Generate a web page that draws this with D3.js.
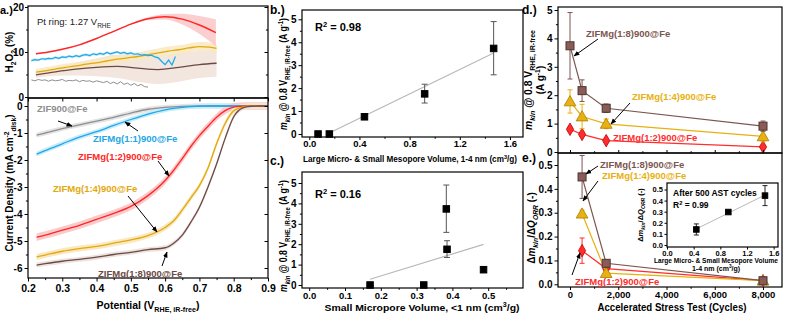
<!DOCTYPE html>
<html><head><meta charset="utf-8">
<script src="https://cdn.jsdelivr.net/npm/d3@7"></script>
<style>html,body{margin:0;padding:0;background:#fff}svg{display:block}</style>
</head><body>
<script>
// ---------------- DATA ----------------
// Panel a (top): H2O2 yield (%) vs potential
const h2RedV = [0.223,0.26,0.30,0.35,0.40,0.45,0.50,0.55,0.60,0.65,0.70,0.748];
const h2Red  = [9.6,10.0,10.6,11.6,13.0,14.6,16.2,17.4,17.85,17.3,16.0,14.3];
const h2RedE = [0.1,0.1,0.1,0.1,0.1,0.1,0.15,0.3,0.6,1.2,2.0,3.0];
const h2YelV = [0.223,0.25,0.28,0.31,0.34,0.37,0.40,0.43,0.46,0.49,0.52,0.55,0.58,0.61,0.64,0.67,0.70,0.73,0.75];
const h2Yel  = [5.5,5.8,6.2,6.6,6.9,7.3,7.6,8.0,8.4,8.7,9.0,9.4,9.8,10.2,10.5,10.9,11.2,11.1,10.8];
const h2YelE = [0.7,0.8,0.8,0.8,0.8,0.8,0.8,0.9,0.9,0.9,0.9,1.0,1.0,1.0,1.0,1.0,1.0,1.0,1.0];
const h2BrnV = [0.223,0.28,0.34,0.40,0.46,0.52,0.58,0.64,0.70,0.75];
const h2Brn  = [4.9,5.6,6.2,6.6,6.8,6.4,6.1,6.6,7.2,7.5];
const h2BrnE = [0.6,0.9,1.4,2.0,2.6,3.0,3.2,3.2,3.0,3.0];
const h2BluV = [0.21,0.22,0.23,0.24,0.25,0.26,0.27,0.28,0.29,0.30,0.31,0.32,0.33,0.34,0.35,0.36,0.37,0.38,0.39,0.40,0.41,0.42,0.43,0.44,0.45,0.46,0.47,0.48,0.49,0.50,0.51,0.52,0.53,0.54,0.55,0.56,0.57,0.58,0.59,0.60,0.61,0.62,0.63];
const h2Blu  = [8.1,8.3,8.2,8.5,8.4,8.6,8.5,8.8,8.6,8.9,8.8,9.1,8.9,9.2,9.0,9.3,9.4,9.2,9.6,9.4,9.7,9.5,9.9,9.6,9.8,10.0,9.7,9.9,9.6,9.8,9.5,9.6,9.3,9.4,9.2,9.3,8.9,8.7,7.9,7.2,8.2,7.1,9.0];
const h2GryV = [0.21,0.22,0.23,0.24,0.25,0.26,0.27,0.28,0.29,0.30,0.31,0.32,0.33,0.34,0.35,0.36,0.37,0.38,0.39,0.40,0.41,0.42,0.43,0.44,0.45,0.46,0.47,0.48,0.49,0.50,0.51,0.52,0.53,0.54,0.55];
const h2Gry  = [3.8,3.6,3.9,3.7,3.8,3.5,3.8,3.6,3.7,3.9,3.5,3.7,3.6,3.8,3.4,3.7,3.5,3.6,3.3,3.6,3.4,3.2,3.5,3.0,3.3,2.9,3.4,2.8,3.1,2.6,3.0,2.5,2.8,2.3,2.2];

// Panel a (bottom): current density (mA cm-2) vs potential
const lsvV   = [0.225,0.25,0.30,0.35,0.40,0.45,0.50,0.55,0.60,0.625,0.65,0.675,0.70,0.725,0.75,0.775,0.80,0.825,0.85,0.875,0.90];
const jGray  = [-1.08,-1.0,-0.84,-0.70,-0.56,-0.42,-0.26,-0.12,-0.05,-0.03,-0.015,-0.005,0,0,0,0,0,0,0,0,0];
const jBlue  = [-1.78,-1.65,-1.40,-1.15,-0.95,-0.72,-0.50,-0.30,-0.14,-0.09,-0.05,-0.02,-0.01,0,0,0,0,0,0,0,0];
const jRed   = [-4.86,-4.78,-4.60,-4.42,-4.20,-3.98,-3.72,-3.32,-2.76,-2.38,-1.95,-1.50,-1.10,-0.75,-0.42,-0.17,-0.04,-0.01,0,0,0];
const jYel   = [-5.59,-5.52,-5.38,-5.28,-5.20,-5.08,-4.96,-4.80,-4.50,-4.25,-3.85,-3.40,-2.95,-2.30,-1.40,-0.65,-0.18,-0.04,0,0,0];
const jBrn   = [-5.89,-5.84,-5.75,-5.68,-5.60,-5.50,-5.42,-5.32,-5.25,-5.08,-4.78,-4.30,-3.75,-3.00,-2.15,-1.20,-0.40,-0.08,-0.01,0,0];
const jBand  = [0.09,0.09,0.14,0.11,0.09]; // gray, blue, red, yellow, brown

// Panel b
const bX = [0.07,0.16,0.44,0.92,1.47];
const bY = [0,0,0.75,1.75,3.73];
const bErrLo = [0,0,0.1,0.40,1.15];
const bErrHi = [0,0,0.1,0.42,1.17];
const bFitX = [0.143,1.47];
const bFitY = [0,3.53];

// Panel c
const cX = [0.17,0.32,0.383,0.385,0.487];
const cY = [0,0,3.73,1.75,0.75];
const cErrLo = [0,0,1.15,0.40,0];
const cErrHi = [0,0,1.17,0.42,0];
const cFitX = [0.17,0.487];
const cFitY = [0.28,1.99];

// Panel d
const dCycles = [0,500,1500,8000];
const d18 = [3.74,2.16,1.54,0.91], d18Err = [1.17,0.38,0.15,0.18];
const d14 = [1.78,1.25,0.99,0.55], d14Err = [0.41,0.43,0.17,0.19];
const d12 = [0.80,0.62,0.40,0.18], d12Err = [0.07,0.06,0.05,0.05];

// Panel e
const eCycles = [500,1500,8000];
const e18 = [0.450,0.088,0.015], e18Err = [0.09,0.01,0.005];
const e14 = [0.296,0.047,0.015], e14Err = [0.015,0.008,0.005];
const e12 = [0.141,0.066,0.015], e12Err = [0.053,0.01,0.005];

// Inset of e
const insX = [0.44,0.92,1.47];
const insY = [0.14,0.297,0.445];
const insErr = [0.05,0.008,0.09];
const insFitX = [0.44,1.47];
const insFitY = [0.145,0.45];

// tick labels
const aTopYTicks = [0,10,20];
const aBotYTicks = [0,-1,-2,-3,-4,-5,-6];
const aXTicks = [0.2,0.3,0.4,0.5,0.6,0.7,0.8,0.9];
const bXTicks = [0.0,0.4,0.8,1.2,1.6];
const bcYTicks = [0,1,2,3,4,5];
const cXTicks = [0.0,0.1,0.2,0.3,0.4,0.5];
const eXTicks = [0,2000,4000,6000,8000];
const eYTicks = [0.0,0.1,0.2,0.3,0.4,0.5];
const insXTicks = [0.0,0.4,0.8,1.2,1.6];

// ---------------- DRAW ----------------
const W=790,H=317;
const FF = "'Liberation Sans', Arial, Helvetica, sans-serif";
const C = {gray:'#8f8f8f', blue:'#22a7e6', red:'#ff2626', yel:'#e2a90c', brn:'#6b4a46',
           grayB:'#e4e4e4', blueB:'#c8ecfa', redB:'#fbcaca', yelB:'#f9e8c0', brnB:'#eee2de', brnB2:'#f3e6de',
           dBrn:'#8a5c57', dBrnS:'#4e3330', dYel:'#e8b010', dYelS:'#a87e00', dRed:'#ff2d2d', dRedS:'#c00000'};

const svg = d3.select('body').append('svg').attr('width',W).attr('height',H)
  .attr('font-family',FF);
const defs = svg.append('defs');
defs.append('marker').attr('id','ah').attr('viewBox','0 0 10 10').attr('refX',9).attr('refY',5)
  .attr('markerWidth',6).attr('markerHeight',6).attr('orient','auto')
  .append('path').attr('d','M0,1L10,5L0,9z').attr('fill','#000');

function clip(id,x0,y0,x1,y1){
  defs.append('clipPath').attr('id',id).append('rect').attr('x',x0).attr('y',y0).attr('width',x1-x0).attr('height',y1-y0);
}
function frame(x0,y0,x1,y1,fill){
  svg.append('rect').attr('x',x0).attr('y',y0).attr('width',x1-x0).attr('height',y1-y0)
    .attr('fill',fill||'none').attr('stroke','#000').attr('stroke-width',1.2);
}
function styleAxis(g,fs){
  g.select('.domain').remove();
  g.selectAll('text').attr('font-size',fs||10).attr('font-weight','bold').attr('font-family',FF).attr('fill','#000');
  g.selectAll('line').attr('stroke','#000').attr('stroke-width',1);
}
function axis(kind, scale, pos, ticks, fmt, minor, opt={}){
  const mk = {left:d3.axisLeft, right:d3.axisRight, top:d3.axisTop, bottom:d3.axisBottom}[kind];
  const tr = (kind==='left'||kind==='right') ? `translate(${pos},0)` : `translate(0,${pos})`;
  const ts = opt.size!==undefined?opt.size:3.5;
  const a = mk(scale).tickValues(ticks).tickSize(ts).tickPadding(opt.pad!==undefined?opt.pad:2);
  if(fmt) a.tickFormat(fmt); else a.tickFormat('');
  const g = svg.append('g').attr('transform',tr).call(a);
  styleAxis(g,opt.fs);
  if(minor){
    const g2 = svg.append('g').attr('transform',tr).call(mk(scale).tickValues(minor).tickSize(ts*0.6).tickFormat(''));
    styleAxis(g2);
  }
  return g;
}
function rich(x,y,fs,parts,opt={}){
  const t = svg.append('text').attr('x',x).attr('y',y).attr('font-size',fs)
    .attr('font-weight',opt.weight||'bold').attr('text-anchor',opt.anchor||'middle')
    .attr('fill',opt.fill||'#000');
  if(opt.rotate) t.attr('transform',`rotate(-90,${x},${y})`);
  if(opt.len) t.attr('textLength',opt.len).attr('lengthAdjust','spacingAndGlyphs');
  let cur=0;
  parts.forEach(p=>{
    if(typeof p==='string') p={t:p};
    const s=t.append('tspan').text(p.t);
    const off = p.sub? 0.28*fs : p.sup? -(opt.supOff||0.38)*fs : 0;
    if(off-cur!==0) s.attr('dy',off-cur);
    cur=off;
    if(p.sub||p.sup) s.attr('font-size',fs*0.68);
    if(p.it) s.attr('font-style','italic');
  });
  return t;
}
function label(x,y,txt,fs,fill,opt={}){
  return svg.append('text').attr('x',x).attr('y',y).attr('font-size',fs).attr('font-weight',opt.weight||'bold')
    .attr('fill',fill).attr('text-anchor',opt.anchor||'start').text(txt);
}
function arrow(x1,y1,x2,y2){
  svg.append('line').attr('x1',x1).attr('y1',y1).attr('x2',x2).attr('y2',y2)
    .attr('stroke','#000').attr('stroke-width',1).attr('marker-end','url(#ah)');
}
function zipv(xs,ys,es){return xs.map((x,i)=>({x,y:ys[i],e:es?(Array.isArray(es)?es[i]:es):0}));}

// ===== Panel a =====
const axX = d3.scaleLinear().domain([0.2,0.9]).range([28,268]);
const aTopY = d3.scaleLinear().domain([0,20]).range([97,7]);
const aBotY = d3.scaleLinear().domain([-6,0]).range([268,106]);
clip('cA1',28,6,268,98); clip('cA2',28,98,268,278);

const gA1 = svg.append('g').attr('clip-path','url(#cA1)');
function band(g,data,xs,ys,color,op){
  g.append('path').datum(data).attr('fill',color).attr('stroke','none').attr('opacity',op||1)
   .attr('d',d3.area().x(d=>xs(d.x)).y0(d=>ys(d.y-d.e)).y1(d=>ys(d.y+d.e)).curve(d3.curveMonotoneX));
}
function line(g,data,xs,ys,color,w,curve){
  g.append('path').datum(data).attr('fill','none').attr('stroke',color).attr('stroke-width',w||1.3)
   .attr('d',d3.line().x(d=>xs(d.x)).y(d=>ys(d.y)).curve(curve||d3.curveMonotoneX));
}
band(gA1,zipv(h2BrnV,h2Brn,h2BrnE),axX,aTopY,C.brnB2);
band(gA1,zipv(h2YelV,h2Yel,h2YelE),axX,aTopY,C.yelB,0.85);
band(gA1,zipv(h2RedV,h2Red,h2RedE),axX,aTopY,C.redB,0.9);
band(gA1,zipv(h2BluV,h2Blu,0.3),axX,aTopY,C.blueB);
line(gA1,zipv(h2GryV,h2Gry),axX,aTopY,C.gray,1,d3.curveLinear);
line(gA1,zipv(h2BrnV,h2Brn),axX,aTopY,C.brn,1.3);
line(gA1,zipv(h2YelV,h2Yel),axX,aTopY,C.yel,1.3);
line(gA1,zipv(h2BluV,h2Blu),axX,aTopY,C.blue,1.2,d3.curveLinear);
line(gA1,zipv(h2RedV,h2Red),axX,aTopY,C.red,1.4);

const gA2 = svg.append('g').attr('clip-path','url(#cA2)');
const lsvSeries = [[jGray,C.gray,C.grayB],[jBlue,C.blue,C.blueB],[jRed,C.red,C.redB],[jYel,C.yel,C.yelB],[jBrn,C.brn,C.brnB]];
lsvSeries.forEach((s,i)=>band(gA2,zipv(lsvV,s[0],jBand[i]),axX,aBotY,s[2]));
lsvSeries.forEach(s=>line(gA2,zipv(lsvV,s[0]),axX,aBotY,s[1],1.3));

frame(28,6,268,98); frame(28,98,268,278);
axis('left',aTopY,28,aTopYTicks,d=>String(d),[5,15],{size:3,pad:1});
axis('right',aTopY,268,aTopYTicks,null,[5,15],{size:-3.5});
axis('left',aBotY,28,aBotYTicks,d=>String(d),[-0.5,-1.5,-2.5,-3.5,-4.5,-5.5]);
axis('right',aBotY,268,aBotYTicks,null,null,{size:-3.5});
axis('bottom',axX,278,aXTicks,d3.format('.1f'),[0.25,0.35,0.45,0.55,0.65,0.75,0.85],{fs:10.5,pad:3});
axis('top',axX,98,aXTicks,null,null,{size:-3.5});

label(0,14,'a.)',11,'#000');
rich(37,25,9.5,['Pt ring: 1.27 V',{t:'RHE',sub:true}],{anchor:'start',weight:'normal',fill:'#222'});
rich(13,52,10,['H',{t:'2',sub:true},'O',{t:'2',sub:true},' (%)'],{rotate:true});
rich(13,183,10,['Current Density (mA cm',{t:'-2',sup:true},{t:'disk',sub:true},')'],{rotate:true});
rich(148,309,10.5,['Potential (V',{t:'RHE, iR-free',sub:true},')']);

label(37,112,'ZIF900@Fe',9.5,C.gray); arrow(58,121,72,126);
label(93,142,'ZIFMg(1:1)900@Fe',9.5,C.blue); arrow(138,131,125,122);
label(78,160,'ZIFMg(1:2)900@Fe',9.5,C.red); arrow(158,161,169,176);
label(53,192,'ZIFMg(1:4)900@Fe',9.5,C.yel); arrow(128,196,157,232);
label(98,277,'ZIFMg(1:8)900@Fe',9.5,C.brn); arrow(162,266,167,252);

// ===== Panel b =====
const bXs = d3.scaleLinear().domain([-0.05,1.7]).range([303,522.5]);
const bYs = d3.scaleLinear().domain([0,5]).range([134,19.3]);
frame(302,10,523,137);
function errbars(data,xs,ys,color,cap,lo,hi){
  data.forEach((d,i)=>{
    const l=lo[i],h=hi[i]; if(!l&&!h) return;
    const x=xs(d.x);
    svg.append('line').attr('x1',x).attr('x2',x).attr('y1',ys(d.y-l)).attr('y2',ys(d.y+h)).attr('stroke',color).attr('stroke-width',1);
    [d.y-l,d.y+h].forEach(v=>svg.append('line').attr('x1',x-cap).attr('x2',x+cap).attr('y1',ys(v)).attr('y2',ys(v)).attr('stroke',color).attr('stroke-width',1));
  });
}
function fit(xs,ys,fx,fy,color,w){
  svg.append('line').attr('x1',xs(fx[0])).attr('y1',ys(fy[0])).attr('x2',xs(fx[1])).attr('y2',ys(fy[1]))
    .attr('stroke',color||'#b8b8b8').attr('stroke-width',w||1.2);
}
function squares(data,xs,ys,s,fill,stroke){
  data.forEach(d=>svg.append('rect').attr('x',xs(d.x)-s/2).attr('y',ys(d.y)-s/2).attr('width',s).attr('height',s)
    .attr('fill',fill).attr('stroke',stroke||fill).attr('stroke-width',1));
}
fit(bXs,bYs,bFitX,bFitY);
const bData = zipv(bX,bY);
errbars(bData,bXs,bYs,'#555',3,bErrLo,bErrHi);
squares(bData,bXs,bYs,6.5,'#000');
axis('left',bYs,302,bcYTicks,d=>String(d),[0.5,1.5,2.5,3.5,4.5]);
axis('bottom',bXs,137,bXTicks,d3.format('.1f'),[0.2,0.6,1.0,1.4],{size:3,pad:0.5,fs:9.5});
label(270,14,'b.)',12,'#000');
rich(315,31,11,['R',{t:'2',sup:true},' = 0.98'],{anchor:'start'});
rich(287,74,10,[{t:'m',it:true},{t:'kin',sub:true,it:true},' @ 0.8 V',{t:'RHE, iR-free',sub:true},' (A g',{t:'-1',sup:true},')'],{rotate:true,len:112});
rich(410,161.5,9,['Large Micro- & Small Mesopore Volume, 1-4 nm (cm',{t:'3',sup:true},'/g)'],{len:214,supOff:0.3});

// ===== Panel c =====
const cXs = d3.scaleLinear().domain([0,0.5]).range([309.2,488.2]);
const cYs = d3.scaleLinear().domain([0,5]).range([285,183]);
frame(302,172,523,288);
fit(cXs,cYs,cFitX,cFitY);
const cData = zipv(cX,cY);
errbars(cData,cXs,cYs,'#555',3,cErrLo,cErrHi);
squares(cData,cXs,cYs,6.5,'#000');
axis('left',cYs,302,bcYTicks,d=>String(d),[0.5,1.5,2.5,3.5,4.5]);
axis('bottom',cXs,288,cXTicks,d3.format('.1f'),[0.05,0.15,0.25,0.35,0.45,0.55],{size:3,pad:1,fs:9.5});
label(270,165,'c.)',12,'#000');
rich(315,198,11,['R',{t:'2',sup:true},' = 0.16'],{anchor:'start'});
rich(287,236,10,[{t:'m',it:true},{t:'kin',sub:true,it:true},' @ 0.8 V',{t:'RHE, iR-free',sub:true},' (A g',{t:'-1',sup:true},')'],{rotate:true,len:112});
rich(422,311,9.5,['Small Micropore Volume, <1 nm (cm',{t:'3',sup:true},'/g)'],{len:195});

// ===== Panel d =====
const dXs = d3.scaleLinear().domain([0,8000]).range([570,763]);
const dYs = d3.scaleLinear().domain([0,5]).range([152,10]);
frame(558,7,782,153);
function series(xs,ys,cyc,vals,errs,color,fill,stroke,shape,size){
  const data = zipv(cyc,vals);
  svg.append('path').datum(data).attr('fill','none').attr('stroke',color).attr('stroke-width',1.2)
    .attr('d',d3.line().x(d=>xs(d.x)).y(d=>ys(d.y)));
  errbars(data,xs,ys,color,2.5,errs,errs);
  data.forEach(d=>{
    if(shape==='sq'){
      svg.append('rect').attr('x',xs(d.x)-size/2).attr('y',ys(d.y)-size/2).attr('width',size).attr('height',size)
        .attr('fill',fill).attr('stroke',stroke).attr('stroke-width',1);
    } else {
      const sym = shape==='tri'? d3.symbolTriangle : d3.symbolDiamond;
      svg.append('path').attr('transform',`translate(${xs(d.x)},${ys(d.y)+(shape==='tri'?1:0)})`)
        .attr('d',d3.symbol().type(sym).size(size)).attr('fill',fill).attr('stroke',stroke).attr('stroke-width',0.8);
    }
  });
}
series(dXs,dYs,dCycles,d12,d12Err,C.dRed,C.dRed,C.dRedS,'dia',45);
series(dXs,dYs,dCycles,d14,d14Err,C.dYel,C.dYel,C.dYelS,'tri',60);
series(dXs,dYs,dCycles,d18,d18Err,'#7d5550',C.dBrn,C.dBrnS,'sq',8);
axis('left',dYs,558,bcYTicks,d=>String(d),[0.5,1.5,2.5,3.5,4.5]);
axis('bottom',dXs,153,eXTicks,null,[1000,3000,5000,7000],{size:-3});
label(522,14,'d.)',12,'#000');
rich(532,80,10,[{t:'m',it:true},{t:'kin',sub:true,it:true},' @ 0.8 V',{t:'RHE, iR-free',sub:true}],{rotate:true,len:100});
rich(544,80,10,['(A g',{t:'-1',sup:true},')'],{rotate:true});
label(586,37,'ZIFMg(1:8)900@Fe',9.5,'#7d5550'); arrow(598,39,574,56);
label(632,100,'ZIFMg(1:4)900@Fe',9.5,C.dYel); arrow(630,103,611,124);
label(613,141,'ZIFMg(1:2)900@Fe',9.5,C.dRed);

// ===== Panel e =====
const eYs = d3.scaleLinear().domain([0,0.5]).range([284.3,165]);
frame(558,153,782,287);
series(dXs,eYs,eCycles,e12,e12Err,C.dRed,C.dRed,C.dRedS,'dia',45);
series(dXs,eYs,eCycles,e14,e14Err,C.dYel,C.dYel,C.dYelS,'tri',60);
series(dXs,eYs,eCycles,e18,e18Err,'#7d5550',C.dBrn,C.dBrnS,'sq',8);
axis('left',eYs,558,eYTicks,d3.format('.1f'),[0.05,0.15,0.25,0.35,0.45]);
axis('bottom',dXs,287,eXTicks,d3.format(','),[1000,3000,5000,7000],{size:3,pad:1.5,fs:9.5});
label(522,162,'e.)',12,'#000');
rich(535,228,10,['Δ',{t:'m',it:true},{t:'kin',sub:true,it:true},'/Δ',{t:'Q',it:true},{t:'ORR',sub:true,it:true},' (-)'],{rotate:true});
rich(672,311,10.5,['Accelerated Stress Test (Cycles)'],{len:149});
label(600,168,'ZIFMg(1:8)900@Fe',9.5,'#7d5550'); arrow(598,166,586,174);
label(602,179,'ZIFMg(1:4)900@Fe',9.5,C.dYel); arrow(598,181,583,201);
label(575,285,'ZIFMg(1:2)900@Fe',9.5,C.dRed); arrow(572,275,580,253);

// Inset
const iXs = d3.scaleLinear().domain([0,1.665]).range([667,778]);
const iYs = d3.scaleLinear().domain([0,0.5]).range([245,189.5]);
frame(667,183,778,247,'#fff');
fit(iXs,iYs,insFitX,insFitY,'#b8b8b8',1);
const iData = zipv(insX,insY);
errbars(iData,iXs,iYs,'#222',2.5,insErr,insErr);
squares(iData,iXs,iYs,5.5,'#000');
axis('left',iYs,667,eYTicks,d3.format('.1f'),null,{fs:7.5,size:2.5,pad:1.5});
axis('bottom',iXs,247,insXTicks,d3.format('.1f'),null,{fs:7.5,size:2.5,pad:1});
label(673,196,'After 500 AST cycles',8.5,'#000');
rich(673,208,8.5,['R',{t:'2',sup:true},' = 0.99'],{anchor:'start'});
rich(643,215,7.5,['Δ',{t:'m',it:true},{t:'kin',sub:true,it:true},'/Δ',{t:'Q',it:true},{t:'ORR',sub:true,it:true},' (-)'],{rotate:true});
rich(716,263,7,['Large Micro- & Small Mesopore Volume'],{len:124});
rich(716,271,7,['1-4 nm (cm',{t:'3',sup:true},'/g)']);
</script>
</body></html>
